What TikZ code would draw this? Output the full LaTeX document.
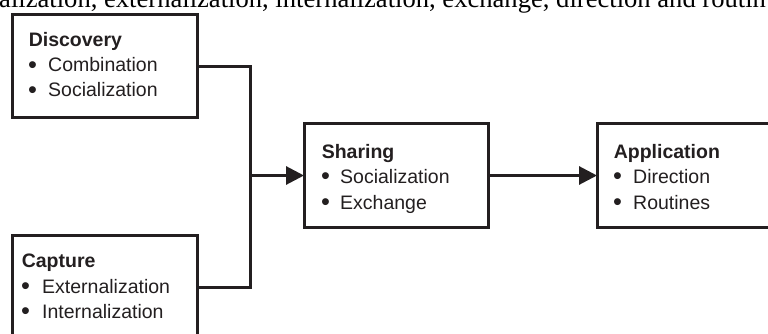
\documentclass[tikz,border=0pt]{standalone}
\usepackage{fontspec}
\setmainfont{Liberation Sans}
\newfontfamily\serifcut{Liberation Serif}
\usetikzlibrary{arrows.meta}
\definecolor{ink}{RGB}{35,31,32}
\newcommand{\bul}[1]{\makebox[#1][l]{\raisebox{-1.6pt}{\scalebox{1.3}{•}}}}
\begin{document}
\begin{tikzpicture}[x=1pt,y=-1pt,
  box/.style={draw=ink, line width=3pt, rectangle, inner sep=0pt, outer sep=0pt},
  head/.style={anchor=base west, inner sep=0pt, text=ink, font=\fontsize{19.5}{25}\selectfont\bfseries},
  item/.style={anchor=base west, inner sep=0pt, text=ink, font=\fontsize{19.5}{25}\selectfont},
  conn/.style={draw=ink, line width=3pt},
  arr/.style={conn, -{Triangle[length=18pt,width=18pt]}}
]
\useasboundingbox (0,0) rectangle (768,334);
\clip (0,0) rectangle (768,334);
\fill[white] (0,0) rectangle (768,334);

% cut-off line of text at the top
\node[anchor=base west, inner sep=0pt, text=black, font=\serifcut\fontsize{26.6}{30}\selectfont] (cut) at (-1,7.5)
  {alization, externalization, internalization, exchange, direction and routin};

% boxes
\node[box, minimum width=185pt, minimum height=103pt] (disc) at (104.5,66.5) {};
\node[box, minimum width=185pt, minimum height=115pt] (cap) at (104.5,292.5) {};
\node[box, minimum width=184pt, minimum height=103pt] (share) at (396,175.5) {};
\node[box, minimum width=193pt, minimum height=103pt] (app) at (693.5,175.5) {};

% texts
\node[head] (discH) at (28.6,47) {Discovery};
\node[item] (disc1) at (28,72) {\bul{20pt}Combination};
\node[item] (disc2) at (28,97) {\bul{20pt}Socialization};

\node[head] (capH) at (21.6,267) {Capture};
\node[item] (cap1) at (21,293) {\bul{21pt}Externalization};
\node[item] (cap2) at (21,318) {\bul{21pt}Internalization};

\node[head] (shareH) at (321.6,158) {Sharing};
\node[item] (share1) at (321,183) {\bul{19pt}Socialization};
\node[item] (share2) at (321,209) {\bul{19pt}Exchange};

\node[head] (appH) at (613.6,158) {Application};
\node[item] (app1) at (613,183) {\bul{20pt}Direction};
\node[item] (app2) at (613,209) {\bul{20pt}Routines};

% connectors
\coordinate (jt) at (250,66.5);
\coordinate (jm) at (250,175.5);
\coordinate (jb) at (250,287);
\coordinate (capE) at ([yshift=-52pt]cap.north east);
\draw[conn] (disc.east) -- (jt) -- (jb) -- (capE);
\draw[arr] (jm) -- (share.west);
\draw[arr] (share.east) -- (app.west);
\end{tikzpicture}
\end{document}
